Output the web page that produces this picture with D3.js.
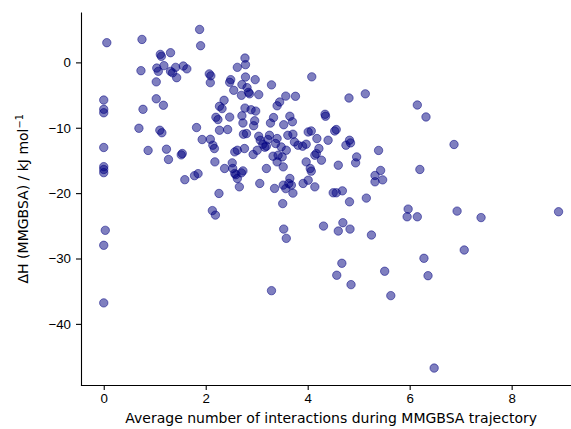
<!DOCTYPE html>
<html lang="en">
<head>
    <meta charset="UTF-8">
    <title>MMGBSA scatter</title>
    <script src="https://d3js.org/d3.v7.min.js"></script>
    <style>
        body {
            margin: 0;
            padding: 0;
            background: #fff;
        }

        svg {
            display: block;
            font-family: 'DejaVu Sans', sans-serif;
        }

        .axis path,
        .axis line {
            stroke: #000;
            stroke-width: 1.1;
        }

        .axis text {
            fill: #000;
            font-size: 13.3px;
        }
    </style>
</head>
<body>
    <svg id="chart"></svg>

    <script>
        // 每个点的 x：平均相互作用数
        const xs = [
            0.06, 0, 0, 0, 0, 0, 0, 0, 0.03, 0, 0,
            0.75, 0.73, 0.77, 0.69, 1.03, 1.03, 1.17, 1.10, 1.14, 0.87, 1.23, 1.27,
            1.54, 1.52, 1.59, 1.78, 1.85, 1.11, 1.13, 1.31, 1.18, 1.04, 1.07, 1.31,
            1.35, 1.41, 1.43, 1.56, 1.63, 1.82,
            1.88, 1.90, 2.77, 2.78, 2.62, 2.07, 2.10, 2.09, 2.49, 2.47, 2.78, 2.97,
            3.29, 2.71, 2.81, 2.84, 2.86, 2.55, 3.04, 2.70, 2.36, 2.27, 2.32, 3.45,
            3.40, 3.57, 3.76, 4.08, 4.81, 5.13, 2.77, 2.89, 2.98, 2.20, 2.24, 2.47,
            2.71, 2.73, 2.96, 2.94, 3.33, 3.27, 3.65, 3.70, 3.53, 4.34, 4.35,
            2.27, 2.43, 2.74, 2.80, 3.04, 3.07, 3.12, 3.25, 3.22, 3.40, 3.37, 3.19,
            3.16, 1.93, 2.09, 2.14, 2.17, 2.76, 2.62, 2.57, 2.93, 3.01, 3.32, 3.42,
            3.40, 3.50, 2.18, 2.37, 2.52, 2.53, 2.57, 2.59, 2.73, 2.70, 2.62, 2.66,
            3.19, 3.06, 2.26, 2.13, 2.19, 3.35, 3.52, 3.57, 3.51,
            3.61, 3.71, 4.01, 4.07, 4.18, 4.40, 4.53, 4.56, 4.82, 4.75, 4.84, 5.39,
            3.48, 3.58, 3.74, 3.81, 3.90, 3.97, 3.52, 4.22, 4.17, 4.14, 4.27, 3.97,
            4.05, 4.07, 4.60, 4.96, 4.94, 5.32, 5.32, 5.43, 3.65, 3.63, 3.68, 3.71,
            3.91, 4.01, 4.14, 4.50, 4.56, 4.68, 4.82, 5.15, 5.47,
            6.15, 6.32, 6.87, 6.20, 5.97, 5.95, 6.15, 6.93, 7.40, 8.92, 5.25, 7.07,
            6.28, 6.36, 5.51, 5.63, 6.48, 3.53, 3.58, 4.31, 4.69, 4.60, 4.83, 4.67,
            4.57, 4.85, 3.29
        ];

        // 每个点的 y：ΔH (kJ/mol)
        const ys = [
            3.01, -5.76, -7.18, -7.71, -13.02, -15.95, -16.38, -16.87, -25.69, -27.98, -36.79,
            3.51, -1.27, -7.18, -10.08, -2.98, -5.57, -6.56, -10.38, -10.76, -13.47, -13.28, -14.85,
            -13.94, -14.15, -17.94, -17.33, -17.02, 1.22, 0.92, 1.48, -0.50, -0.87, -1.37, -1.37,
            -1.60, -0.76, -2.34, -0.56, -0.99, -9.97,
            5.04, 2.55, 0.66, -0.35, -0.76, -1.76, -2.06, -3.10, -2.64, -3.05, -2.24, -2.64,
            -3.44, -3.40, -3.86, -4.58, -4.81, -4.27, -4.93, -5.04, -5.80, -6.72, -7.07, -6.06,
            -6.64, -5.16, -5.19, -2.21, -5.45, -4.81, -6.99, -7.25, -7.45, -8.40, -8.75, -8.37,
            -8.17, -9.27, -8.93, -9.69, -8.44, -9.28, -8.24, -9.08, -9.54, -7.94, -8.24,
            -10.38, -10.27, -10.99, -10.89, -11.30, -11.91, -12.52, -11.15, -11.80, -11.65, -12.41, -12.82,
            -12.98, -11.80, -11.76, -12.67, -13.18, -13.18, -13.44, -13.69, -14.09, -13.44, -14.35, -14.20,
            -15.22, -14.46, -15.22, -16.23, -15.37, -16.23, -16.99, -17.18, -16.60, -16.90, -17.76, -19.04,
            -16.23, -18.52, -20.05, -22.67, -23.36, -19.28, -18.78, -19.31, -21.60,
            -11.15, -10.99, -10.64, -10.49, -11.65, -11.91, -10.49, -10.27, -11.91, -12.67, -12.32, -13.47,
            -12.93, -13.44, -12.17, -12.67, -12.82, -12.52, -15.98, -13.18, -13.94, -14.20, -14.96, -15.22,
            -16.23, -16.64, -15.73, -14.46, -15.37, -17.30, -18.27, -16.53, -17.76, -18.52, -18.78, -20.00,
            -18.52, -18.02, -19.04, -19.95, -19.95, -19.65, -21.33, -20.76, -17.97,
            -6.52, -8.35, -12.56, -16.38, -22.44, -23.62, -23.62, -22.75, -23.74, -22.85, -26.41, -28.70,
            -29.97, -32.63, -31.95, -35.68, -46.76, -25.50, -26.92, -25.04, -24.53, -25.80, -25.50, -30.73,
            -32.56, -34.00, -34.92
        ];

        const xTicks = [0, 2, 4, 6, 8];
        const yTicks = [-40, -30, -20, -10, 0];

        const points = xs.map((x, i) => ({ x: x, y: ys[i] }));

        // 画布尺寸
        const W = 571, H = 429;
        const plot = { left: 81, right: 581.3, top: 12.5, bottom: 385 };

        const svg = d3.select("#chart")
            .attr("width", W)
            .attr("height", H);

        const xScale = d3.scaleLinear().domain([-0.446, 9.366]).range([plot.left, plot.right]);
        const yScale = d3.scaleLinear().domain([-49.35, 7.63]).range([plot.bottom, plot.top]);

        // 散点
        svg.append("g")
            .selectAll("circle")
            .data(points)
            .join("circle")
            .attr("cx", d => xScale(d.x))
            .attr("cy", d => yScale(d.y))
            .attr("r", 4.2)
            .attr("fill", "#000080")
            .attr("fill-opacity", 0.5)
            .attr("stroke", "#000080")
            .attr("stroke-opacity", 0.5)
            .attr("stroke-width", 1);

        // x 轴
        svg.append("g")
            .attr("class", "axis")
            .attr("transform", `translate(0,${plot.bottom})`)
            .call(d3.axisBottom(xScale).tickValues(xTicks).tickSize(5).tickPadding(4).tickSizeOuter(0)
                .tickFormat(d3.format("d")));

        // y 轴
        svg.append("g")
            .attr("class", "axis")
            .attr("transform", `translate(${plot.left},0)`)
            .call(d3.axisLeft(yScale).tickValues(yTicks).tickSize(5).tickPadding(5).tickSizeOuter(0)
                .tickFormat(d => d < 0 ? "\u2212" + Math.abs(d) : d));

        svg.selectAll(".axis .domain").attr("stroke-linecap", "square");

        // 轴标题
        svg.append("text")
            .attr("x", (plot.left + plot.right) / 2)
            .attr("y", 423)
            .attr("text-anchor", "middle")
            .style("font-size", "14px")
            .text("Average number of interactions during MMGBSA trajectory");

        const yLabel = svg.append("text")
            .attr("transform", `translate(28,${(plot.top + plot.bottom) / 2}) rotate(-90)`)
            .attr("text-anchor", "middle")
            .style("font-size", "14px");
        yLabel.append("tspan").text("\u0394H (MMGBSA) / kJ mol");
        yLabel.append("tspan").attr("dy", -5.5).style("font-size", "9.8px").text("\u22121");
    </script>
</body>
</html>
